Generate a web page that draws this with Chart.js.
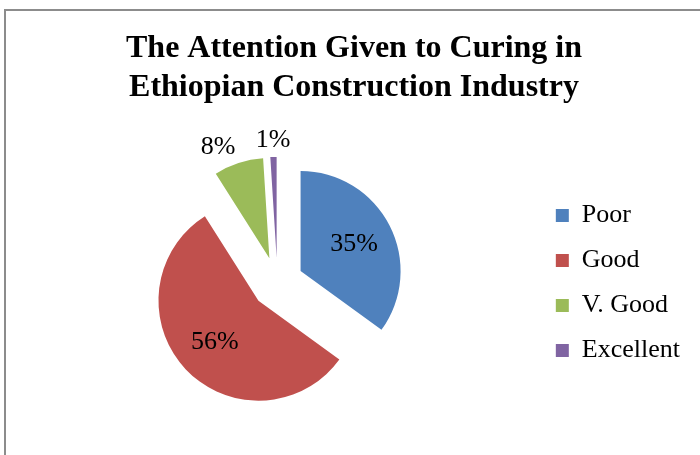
<!DOCTYPE html>
<html>
<head>
<meta charset="utf-8">
<title>Curing in Ethiopian Construction Industry</title>
<script src="https://cdn.jsdelivr.net/npm/chart.js@4.4.1/dist/chart.umd.min.js"></script>
<style>
  html, body { margin: 0; padding: 0; background: #fff; overflow: hidden; }
  #frame {
    position: absolute; left: 4px; top: 9px; width: 760px; height: 520px;
    border-left: 2px solid #8c8c8c; border-top: 2px solid #8c8c8c;
  }
  #myChart { position: absolute; left: 0; top: 0; }
</style>
</head>
<body>
<div id="frame"></div>
<canvas id="myChart" width="700" height="455"></canvas>
<script>
const categories = ['Poor', 'Good', 'V. Good', 'Excellent'];
const shares = [35, 56, 8, 1];
const sliceColors = ['#4F81BD', '#C0504D', '#9BBB59', '#8064A2'];
const titleLines = ['The Attention Given to Curing in', 'Ethiopian Construction Industry'];

const serif = "'Liberation Serif', 'Times New Roman', serif";
const explode = 26; // how far (px) every slice is pulled out from the centre

const total = shares.reduce((a, b) => a + b, 0);

// Pie that pulls each slice straight out along its middle angle.
// The built-in `offset` also grows and trims the arc, which we don't want here.
class ExplodedPieController extends Chart.PieController {
    static id = 'explodedPie';
    draw() {
        const ctx = this.chart.ctx;
        const area = this.chart.chartArea;
        this._cachedMeta.data.forEach(arc => {
            if (arc.hidden) return;
            const mid = (arc.startAngle + arc.endAngle) / 2;
            ctx.save();
            ctx.translate(Math.cos(mid) * explode, Math.sin(mid) * explode);
            arc.draw(ctx, area);
            ctx.restore();
        });
    }
}
Chart.register(ExplodedPieController);

// percentage labels: inside big slices, just outside the small ones
const sliceLabels = {
    id: 'sliceLabels',
    afterDatasetsDraw(chart) {
        const ctx = chart.ctx;
        const meta = chart.getDatasetMeta(0);
        ctx.save();
        ctx.font = '26px ' + serif;
        ctx.fillStyle = '#000';
        meta.data.forEach((arc, i) => {
            const p = arc.getProps(['x', 'y', 'startAngle', 'endAngle', 'outerRadius'], true);
            const mid = (p.startAngle + p.endAngle) / 2;
            const cos = Math.cos(mid), sin = Math.sin(mid);
            const share = shares[i] / total;
            const text = Math.round(share * 100) + '%';
            if (share >= 0.1) {
                const r = explode + p.outerRadius * 0.6;
                ctx.textAlign = 'center';
                ctx.textBaseline = 'middle';
                ctx.fillText(text, p.x + cos * r, p.y + sin * r);
            } else {
                const r = explode + p.outerRadius + 10;
                ctx.textAlign = cos < -0.2 ? 'right' : (cos > 0.2 ? 'left' : 'center');
                ctx.textBaseline = sin < -0.2 ? 'alphabetic' : (sin > 0.2 ? 'top' : 'middle');
                ctx.fillText(text, p.x + cos * r, p.y + sin * r);
            }
        });
        ctx.restore();
    }
};

Chart.defaults.color = '#000';

var ctx = document.getElementById('myChart').getContext('2d');
new Chart(ctx, {
    type: 'explodedPie',
    data: {
        labels: categories,
        datasets: [{
            data: shares,
            backgroundColor: sliceColors,
            borderWidth: 0,
            radius: 100
        }]
    },
    options: {
        responsive: false,
        animation: false,
        events: [],
        layout: {
            padding: { left: 18, right: 10, top: 0, bottom: 6 }
        },
        plugins: {
            title: {
                display: true,
                text: titleLines,
                color: '#000',
                font: { family: serif, size: 32, weight: 'bold', lineHeight: 1.2 },
                padding: { top: 30, bottom: 10 }
            },
            legend: {
                position: 'right',
                fullSize: false,
                labels: {
                    boxWidth: 13,
                    boxHeight: 13,
                    padding: 19,
                    color: '#000',
                    font: { family: serif, size: 26 }
                }
            },
            tooltip: { enabled: false }
        }
    },
    plugins: [sliceLabels]
});
</script>
</body>
</html>
